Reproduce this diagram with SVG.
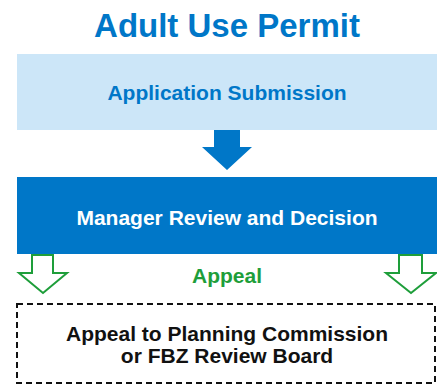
<svg xmlns="http://www.w3.org/2000/svg" width="437" height="384" viewBox="0 0 437 384">
<style>
text{font-family:"Liberation Sans",Arial,sans-serif;font-weight:bold;text-anchor:middle}
.t{font-size:21px}
.green{fill:none;stroke:#1E9E3A;stroke-width:2;stroke-linejoin:miter}
</style>
<rect width="437" height="384" fill="#fff"/>
<text x="227" y="37" style="font-size:33px" fill="#0077C8">Adult Use Permit</text>
<g id="application">
<rect x="17" y="54" width="420" height="76" fill="#CCE6F8"/>
<text class="t" x="227" y="100" fill="#0077C8">Application Submission</text>
</g>
<g id="manager">
<rect x="17" y="177" width="420" height="77" fill="#0077C8"/>
<text class="t" x="227" y="225" fill="#fff">Manager Review and Decision</text>
</g>
<g id="appeal-board">
<rect x="17" y="304" width="418" height="79" fill="#fff" stroke="#111" stroke-width="2" stroke-dasharray="6 4"/>
<text class="t" x="227" y="341" fill="#111">Appeal to Planning Commission</text>
<text class="t" x="227" y="363" fill="#111">or FBZ Review Board</text>
</g>
<g id="connectors">
<path d="M214,130 L240,130 L240,147 L252,147 L227,170 L202,147 L214,147 Z" fill="#0077C8"/>
<path class="green" d="M32,255 L53,255 L53,273 L67,273 L43,293 L19,273 L32,273 Z"/>
<path class="green" d="M399,255 L422,255 L422,273 L436,273 L411,293 L386,273 L399,273 Z"/>
<text x="227" y="283" style="font-size:21px" fill="#1E9E3A">Appeal</text>
</g>
</svg>
